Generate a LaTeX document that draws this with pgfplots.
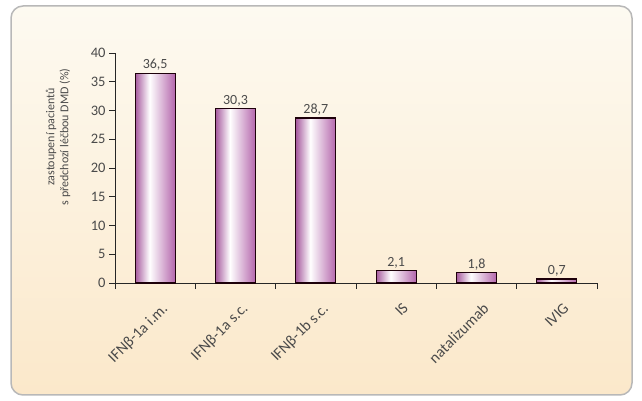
\documentclass[border=0pt]{standalone}
\usepackage{pgfplots}
\pgfplotsset{compat=1.18}
\usepackage{fontspec}
\setmainfont{Carlito}

\definecolor{barA}{HTML}{A65A9E}
\definecolor{barB}{HTML}{B466AC}
\definecolor{bgtop}{HTML}{FDFAF1}
\definecolor{bgbot}{HTML}{FBE8CA}
\definecolor{txt}{HTML}{4A4A4A}
\pgfdeclarehorizontalshading{barshade}{100bp}{color(0bp)=(barA); color(25bp)=(barA); color(43bp)=(white); color(75bp)=(barB); color(100bp)=(barB)}

\pgfplotsset{
  onebar/.style={ybar, bar width=40bp, bar shift=0pt, draw=black!85!purple, line width=1.1bp, shading=barshade,
    nodes near coords,
    every node near coord/.append style={text=txt, font=\fontsize{14bp}{16bp}\selectfont, inner sep=2bp},
    /pgf/number format/.cd, fixed, fixed zerofill, precision=1, use comma, assume math mode=true},
}

\begin{document}
\begin{tikzpicture}
\useasboundingbox (0,0) rectangle (642bp,401bp);
\draw[rounded corners=12bp, draw=black!28, line width=1.5bp, top color=bgtop, bottom color=bgbot]
  (11bp,6bp) rectangle (632bp,395bp);
\begin{axis}[
    at={(115bp,118bp)}, anchor=south west,
    scale only axis, width=482bp, height=230bp,
    /pgf/number format/assume math mode=true,
    axis lines=left, axis line style={-, black!85, line width=0.9bp},
    xmin=-0.5, xmax=5.5, ymin=0, ymax=40,
    ytick={0,5,...,40},
    xtick={0,...,5},
    xticklabels={IFNβ-1a i.m., IFNβ-1a s.c., IFNβ-1b s.c., IS, natalizumab, IVIG},
    minor xtick={-0.5,0.5,...,5.5},
    tick align=outside,
    major tick length=6bp, minor tick length=6bp,
    major x tick style={draw=none},
    tick style={black!85, line width=0.9bp},
    minor x tick style={black!85, line width=0.9bp},
    yticklabel style={text=txt, font=\fontsize{14.5bp}{16bp}\selectfont},
    xticklabel style={text=txt, font=\fontsize{15.5bp}{17bp}\selectfont, rotate=45, anchor=north east, inner sep=2bp, xshift=-3bp, yshift=-11bp},
    every axis y label/.style={at={(rel axis cs:-0.118,0.635)}, rotate=90, anchor=center, align=center, text=txt, font=\fontsize{12bp}{14bp}\selectfont},
    ylabel={zastoupení pacientů\\s předchozí léčbou DMD (\%)},
    clip=false,
  ]
  \addplot[onebar] coordinates {(0,36.5)};
  \addplot[onebar] coordinates {(1,30.3)};
  \addplot[onebar] coordinates {(2,28.7)};
  \addplot[onebar] coordinates {(3,2.1)};
  \addplot[onebar] coordinates {(4,1.8)};
  \addplot[onebar] coordinates {(5,0.7)};
\end{axis}
\end{tikzpicture}
\end{document}
